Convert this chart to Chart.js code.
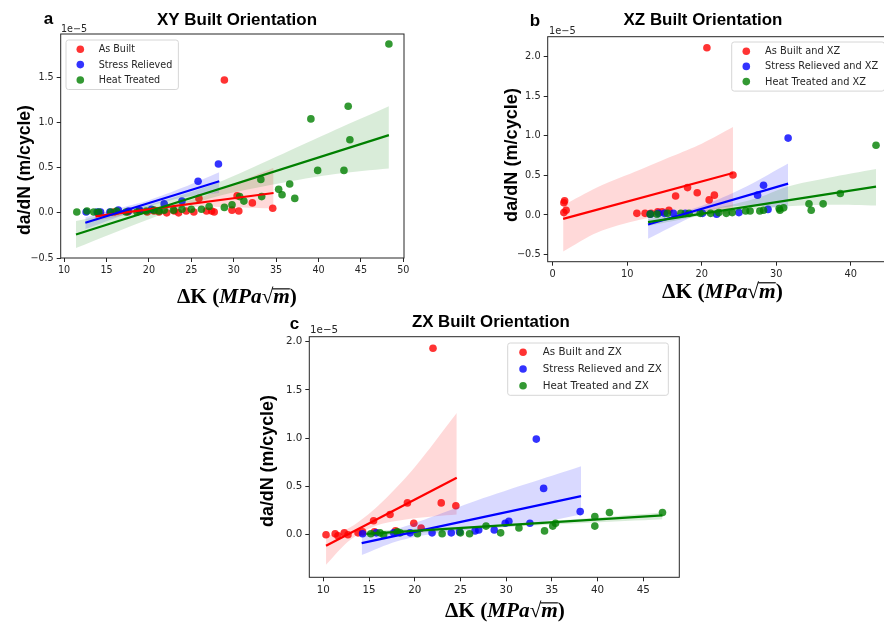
<!DOCTYPE html>
<html>
<head>
<meta charset="utf-8">
<script src="https://cdn.jsdelivr.net/npm/chart.js@4.4.1/dist/chart.umd.min.js"></script>
<style>
  html, body { margin: 0; padding: 0; background: #fff; overflow: hidden; width: 884px; height: 622px; }
  canvas { position: absolute; }
</style>
</head>
<body>
<canvas id="chartXY" width="425" height="310" style="left:0px;top:0px"></canvas>
<canvas id="chartXZ" width="420" height="310" style="left:490px;top:0px"></canvas>
<canvas id="chartZX" width="450" height="312" style="left:250px;top:310px"></canvas>
<script>
// all da/dN values are in units of 1e-5 m/cycle

// ---- XY built orientation ----
const xyLabels = ['As Built', 'Stress Relieved', 'Heat Treated'];
const xyTicksX = [10, 15, 20, 25, 30, 35, 40, 45, 50];
const xyTicksY = [-0.5, 0, 0.5, 1.0, 1.5];

const xyAsBuiltX = [14.0, 15.9, 17.5, 18.9, 19.8, 20.6, 21.2, 22.1, 23.0, 23.5, 24.4, 25.3, 25.9, 26.8, 27.4, 27.7, 28.9, 29.8, 30.4, 30.6, 32.2, 34.6];
const xyAsBuiltY = [0.00, 0.01, 0.01, 0.02, 0.01, 0.02, 0.01, 0.00, 0.02, 0.00, 0.02, 0.01, 0.16, 0.02, 0.02, 0.01, 1.47, 0.03, 0.19, 0.02, 0.11, 0.05];
const xyStressX = [12.6, 13.9, 14.3, 15.4, 16.4, 17.6, 18.9, 20.3, 21.8, 23.9, 25.8, 28.2];
const xyStressY = [0.01, 0.01, 0.01, 0.01, 0.03, 0.02, 0.03, 0.04, 0.10, 0.13, 0.35, 0.54];
const xyHeatX = [11.5, 12.7, 13.5, 14.1, 15.5, 16.2, 17.3, 18.6, 19.7, 20.6, 21.2, 21.8, 22.9, 23.9, 25.0, 26.2, 27.1, 28.9, 29.8, 30.7, 31.2, 33.2, 33.3, 35.3, 35.7, 36.6, 37.2, 39.1, 39.9, 43.0, 43.5, 43.7, 48.3];
const xyHeatY = [0.01, 0.02, 0.01, 0.01, 0.01, 0.02, 0.01, 0.01, 0.02, 0.03, 0.02, 0.03, 0.03, 0.04, 0.04, 0.04, 0.07, 0.06, 0.09, 0.18, 0.13, 0.37, 0.18, 0.26, 0.20, 0.32, 0.16, 1.04, 0.47, 0.47, 1.18, 0.81, 1.87];

const xyAsBuiltFitX = [13.7, 34.7], xyAsBuiltFitY = [-0.04, 0.22];
const xyAsBuiltBandX = [13.7, 18, 22, 26, 30, 34.7];
const xyAsBuiltUpper = [0.00, 0.04, 0.08, 0.17, 0.32, 0.50];
const xyAsBuiltLower = [-0.09, -0.01, 0.04, 0.07, 0.06, 0.05];
const xyStressFitX = [12.5, 28.3], xyStressFitY = [-0.11, 0.35];
const xyStressBandX = [12.5, 16, 20, 24, 28.3];
const xyStressUpper = [-0.05, 0.04, 0.14, 0.28, 0.45];
const xyStressLower = [-0.18, -0.06, 0.07, 0.17, 0.22];
const xyHeatFitX = [11.4, 48.3], xyHeatFitY = [-0.24, 0.86];
const xyHeatBandX = [11.4, 20, 28, 35, 42, 48.3];
const xyHeatUpper = [-0.09, 0.09, 0.33, 0.62, 0.92, 1.18];
const xyHeatLower = [-0.39, -0.07, 0.18, 0.32, 0.43, 0.49];

// ---- XZ built orientation ----
const xzLabels = ['As Built and XZ', 'Stress Relieved and XZ', 'Heat Treated and XZ'];
const xzTicksX = [0, 10, 20, 30, 40];
const xzTicksY = [-0.5, 0, 0.5, 1.0, 1.5, 2.0];

const xzAsBuiltX = [1.5, 1.6, 1.5, 1.8, 11.3, 12.4, 13.2, 14.1, 14.7, 15.6, 16.5, 18.1, 19.4, 20.7, 21.0, 21.7, 24.2];
const xzAsBuiltY = [0.155, 0.18, 0.03, 0.06, 0.02, 0.02, 0.02, 0.04, 0.04, 0.06, 0.24, 0.345, 0.28, 2.11, 0.19, 0.25, 0.505];
const xzStressX = [13.1, 14.2, 15.0, 16.2, 17.8, 20.1, 22.0, 25.0, 27.5, 28.3, 28.9, 31.6];
const xzStressY = [0.01, 0.02, 0.02, 0.02, 0.02, 0.02, 0.01, 0.03, 0.25, 0.375, 0.07, 0.97];
const xzHeatX = [13.1, 14.0, 15.4, 17.2, 18.3, 19.8, 21.2, 22.3, 23.3, 24.1, 25.9, 26.5, 27.8, 28.3, 30.4, 30.5, 31.0, 34.4, 34.7, 36.3, 38.6, 43.4];
const xzHeatY = [0.01, 0.01, 0.02, 0.02, 0.02, 0.02, 0.02, 0.03, 0.02, 0.03, 0.05, 0.05, 0.05, 0.06, 0.08, 0.06, 0.09, 0.14, 0.06, 0.14, 0.27, 0.88];

const xzAsBuiltFitX = [1.4, 24.2], xzAsBuiltFitY = [-0.05, 0.53];
const xzAsBuiltBandX = [1.4, 6, 11.7, 16, 20, 24.2];
const xzAsBuiltUpper = [0.12, 0.35, 0.57, 0.74, 0.90, 1.11];
const xzAsBuiltLower = [-0.46, -0.22, -0.06, 0.00, 0.03, 0.00];
const xzStressFitX = [12.8, 31.6], xzStressFitY = [-0.12, 0.395];
const xzStressBandX = [12.8, 17, 21, 26, 31.6];
const xzStressUpper = [-0.02, 0.03, 0.15, 0.36, 0.65];
const xzStressLower = [-0.30, -0.10, 0.06, 0.12, 0.08];
const xzHeatFitX = [12.8, 43.4], xzHeatFitY = [-0.09, 0.357];
const xzHeatBandX = [12.8, 20, 27, 31.6, 37, 43.4];
const xzHeatUpper = [-0.05, 0.05, 0.20, 0.36, 0.47, 0.58];
const xzHeatLower = [-0.14, -0.01, 0.07, 0.11, 0.13, 0.12];

// ---- ZX built orientation ----
const zxLabels = ['As Built and ZX', 'Stress Relieved and ZX', 'Heat Treated and ZX'];
const zxTicksX = [10, 15, 20, 25, 30, 35, 40, 45];
const zxTicksY = [0, 0.5, 1.0, 1.5, 2.0];

const zxAsBuiltX = [10.3, 11.3, 11.6, 12.3, 12.7, 13.8, 14.3, 15.5, 15.6, 17.3, 17.9, 19.2, 19.9, 20.7, 22.0, 22.9, 24.5];
const zxAsBuiltY = [0.00, 0.01, -0.01, 0.02, 0.00, 0.02, 0.03, 0.145, 0.03, 0.21, 0.04, 0.33, 0.12, 0.07, 1.93, 0.33, 0.30];
const zxStressX = [14.3, 15.8, 17.7, 19.5, 21.9, 24.0, 24.9, 26.6, 27.0, 28.7, 29.9, 30.3, 32.6, 33.3, 34.1, 38.1];
const zxStressY = [0.01, 0.02, 0.02, 0.02, 0.02, 0.02, 0.03, 0.04, 0.05, 0.05, 0.12, 0.14, 0.12, 0.99, 0.48, 0.24];
const zxHeatX = [15.2, 16.2, 16.6, 18.1, 18.4, 20.3, 23.0, 25.0, 26.0, 27.8, 29.4, 31.4, 34.2, 35.1, 35.4, 39.7, 39.7, 41.3, 47.1];
const zxHeatY = [0.01, 0.02, 0.00, 0.03, 0.02, 0.01, 0.01, 0.02, 0.01, 0.09, 0.02, 0.07, 0.04, 0.09, 0.12, 0.19, 0.09, 0.23, 0.23];

const zxAsBuiltFitX = [10.3, 24.6], zxAsBuiltFitY = [-0.114, 0.59];
const zxAsBuiltBandX = [10.3, 13, 16, 20, 24.6];
const zxAsBuiltUpper = [-0.02, 0.08, 0.30, 0.70, 1.26];
const zxAsBuiltLower = [-0.31, -0.05, 0.10, 0.17, 0.21];
const zxStressFitX = [14.2, 38.2], zxStressFitY = [-0.086, 0.40];
const zxStressBandX = [14.2, 18, 22, 26, 32, 38.2];
const zxStressUpper = [-0.02, 0.06, 0.19, 0.33, 0.52, 0.71];
const zxStressLower = [-0.21, -0.07, 0.01, 0.05, 0.10, 0.21];
const zxHeatFitX = [14.7, 47.1], zxHeatFitY = [0.01, 0.20];
const zxHeatBandX = [14.7, 30, 47.1];
const zxHeatUpper = [0.04, 0.11, 0.23];
const zxHeatLower = [-0.02, 0.08, 0.16];

const RED = [255, 0, 0], BLUE = [0, 0, 255], GREEN = [0, 128, 0];
const rgba = (c, a) => `rgba(${c[0]},${c[1]},${c[2]},${a})`;
const pts = (xs, ys) => xs.map((x, i) => ({ x: x, y: ys[i] }));
const fmtY = v => (v < 0 ? '\u2212' : '') + Math.abs(v).toFixed(1);
const DOT = 3.8;

function series(label, color, x, y, fitX, fitY, bandX, upper, lower) {
    return { label, color, x, y, fitX, fitY, bandX, upper, lower };
}

const panels = [
    {
        id: 'chartXY', left: 0, top: 0, w: 425, h: 310,
        area: { l: 60.7, t: 34, r: 404, b: 258 },
        xMin: 9.6, xMax: 50.08, yMin: -0.5, yMax: 1.98,
        xTicks: xyTicksX, yTicks: xyTicksY,
        letter: 'a', title: 'XY Built Orientation',
        titleAt: [237, 20], titleW: 160, letterAt: [48.5, 19.5], expAt: [61, 29],
        yTitleAt: [25, 170], yTitleW: 130, xTitleAt: [237, 298], xTitleW: 120,
        legendAt: [66, 40], legendRow: 15.4, font: 9.6,
        series: [
            series(xyLabels[0], RED, xyAsBuiltX, xyAsBuiltY, xyAsBuiltFitX, xyAsBuiltFitY, xyAsBuiltBandX, xyAsBuiltUpper, xyAsBuiltLower),
            series(xyLabels[1], BLUE, xyStressX, xyStressY, xyStressFitX, xyStressFitY, xyStressBandX, xyStressUpper, xyStressLower),
            series(xyLabels[2], GREEN, xyHeatX, xyHeatY, xyHeatFitX, xyHeatFitY, xyHeatBandX, xyHeatUpper, xyHeatLower)
        ]
    },
    {
        id: 'chartXZ', left: 490, top: 0, w: 420, h: 310,
        area: { l: 547.7, t: 36.7, r: 895.4, b: 261.7 },
        xMin: -0.67, xMax: 46.0, yMin: -0.59, yMax: 2.25,
        xTicks: xzTicksX, yTicks: xzTicksY,
        letter: 'b', title: 'XZ Built Orientation',
        titleAt: [703, 20.7], titleW: 159, letterAt: [535, 21], expAt: [549, 31.7],
        yTitleAt: [512, 155], yTitleW: 134, xTitleAt: [722.5, 292], xTitleW: 121,
        legendAt: [731.7, 42], legendRow: 15.2, font: 9.8,
        series: [
            series(xzLabels[0], RED, xzAsBuiltX, xzAsBuiltY, xzAsBuiltFitX, xzAsBuiltFitY, xzAsBuiltBandX, xzAsBuiltUpper, xzAsBuiltLower),
            series(xzLabels[1], BLUE, xzStressX, xzStressY, xzStressFitX, xzStressFitY, xzStressBandX, xzStressUpper, xzStressLower),
            series(xzLabels[2], GREEN, xzHeatX, xzHeatY, xzHeatFitX, xzHeatFitY, xzHeatBandX, xzHeatUpper, xzHeatLower)
        ]
    },
    {
        id: 'chartZX', left: 250, top: 310, w: 450, h: 312,
        area: { l: 309.3, t: 336.7, r: 679.3, b: 577.3 },
        xMin: 8.47, xMax: 48.94, yMin: -0.44, yMax: 2.05,
        xTicks: zxTicksX, yTicks: zxTicksY,
        letter: 'c', title: 'ZX Built Orientation',
        titleAt: [490.8, 322.3], titleW: 158, letterAt: [294.5, 324], expAt: [310, 330.7],
        yTitleAt: [268, 461], yTitleW: 132, xTitleAt: [505, 612], xTitleW: 120,
        legendAt: [507.7, 343], legendRow: 16.8, font: 10.3,
        series: [
            series(zxLabels[0], RED, zxAsBuiltX, zxAsBuiltY, zxAsBuiltFitX, zxAsBuiltFitY, zxAsBuiltBandX, zxAsBuiltUpper, zxAsBuiltLower),
            series(zxLabels[1], BLUE, zxStressX, zxStressY, zxStressFitX, zxStressFitY, zxStressBandX, zxStressUpper, zxStressLower),
            series(zxLabels[2], GREEN, zxHeatX, zxHeatY, zxHeatFitX, zxHeatFitY, zxHeatBandX, zxHeatUpper, zxHeatLower)
        ]
    }
];

const SANS = '"Liberation Sans", Arial, sans-serif';
const SERIF = '"Liberation Serif", "DejaVu Serif", serif';

function fitText(ctx, text, weight, family, targetW) {
    ctx.font = `${weight} 20px ${family}`;
    const size = 20 * targetW / ctx.measureText(text).width;
    ctx.font = `${weight} ${size}px ${family}`;
}

function drawDeltaK(ctx, cx, cy, targetW) {
    const parts = [['\u0394K', 'bold'], [' (', 'bold'], ['MPa', 'italic bold'], ['\u221A', 'bold'], ['m', 'italic bold'], [')', 'bold']];
    const widthAt = sz => parts.reduce((w, [t, st]) => { ctx.font = `${st} ${sz}px ${SERIF}`; return w + ctx.measureText(t).width; }, 0);
    const size = 20 * targetW / widthAt(20);
    let x = cx - targetW / 2;
    ctx.textAlign = 'left';
    ctx.textBaseline = 'middle';
    parts.forEach(([t, st]) => {
        ctx.font = `${st} ${size}px ${SERIF}`;
        const w = ctx.measureText(t).width;
        ctx.fillText(t, x, cy);
        if (t === 'm') {
            ctx.beginPath();
            ctx.lineWidth = size * 0.055;
            ctx.moveTo(x - 1, cy - size * 0.43);
            ctx.lineTo(x + w, cy - size * 0.43);
            ctx.stroke();
        }
        x += w;
    });
}

function decorPlugin(p) {
    return {
        id: 'decor',
        afterDraw(chart) {
            const ctx = chart.ctx, a = chart.chartArea;
            const ox = p.left, oy = p.top;
            ctx.save();
            ctx.strokeStyle = '#262626';
            ctx.lineWidth = 1;
            ctx.strokeRect(a.left, a.top, a.right - a.left, a.bottom - a.top);

            ctx.fillStyle = '#000';
            ctx.strokeStyle = '#000';
            ctx.textAlign = 'center';
            ctx.textBaseline = 'middle';
            fitText(ctx, p.title, 'bold', SANS, p.titleW);
            ctx.fillText(p.title, p.titleAt[0] - ox, p.titleAt[1] - oy);
            ctx.font = `bold 17px ${SANS}`;
            ctx.fillText(p.letter, p.letterAt[0] - ox, p.letterAt[1] - oy);

            ctx.save();
            ctx.translate(p.yTitleAt[0] - ox, p.yTitleAt[1] - oy);
            ctx.rotate(-Math.PI / 2);
            fitText(ctx, 'da/dN (m/cycle)', 'bold', SANS, p.yTitleW);
            ctx.fillText('da/dN (m/cycle)', 0, 0);
            ctx.restore();

            drawDeltaK(ctx, p.xTitleAt[0] - ox, p.xTitleAt[1] - oy, p.xTitleW);

            ctx.fillStyle = '#262626';
            ctx.textAlign = 'left';
            ctx.font = `${p.font}px "DejaVu Sans"`;
            ctx.fillText('1e\u22125', p.expAt[0] - ox, p.expAt[1] - oy);

            // legend
            const k = p.font / 9.4;
            const tw = Math.max(...p.series.map(s => ctx.measureText(s.label).width));
            const bx = p.legendAt[0] - ox, by = p.legendAt[1] - oy;
            const bw = 32 * k + tw + 6 * k, bh = 2 * p.legendRow + 18.7;
            ctx.beginPath();
            ctx.roundRect(bx, by, bw, bh, 2.5);
            ctx.fillStyle = 'rgba(255,255,255,0.8)';
            ctx.fill();
            ctx.strokeStyle = '#d6d6d6';
            ctx.lineWidth = 1;
            ctx.stroke();
            p.series.forEach((s, i) => {
                const cy = by + 9.2 + i * p.legendRow;
                ctx.beginPath();
                ctx.arc(bx + 14 * k, cy, DOT, 0, Math.PI * 2);
                ctx.fillStyle = rgba(s.color, 0.8);
                ctx.fill();
                ctx.fillStyle = '#262626';
                ctx.fillText(s.label, bx + 32 * k, cy + 0.5);
            });
            ctx.restore();
        }
    };
}

function buildPanel(p) {
    const datasets = [];
    p.series.forEach((s, i) => {
        datasets.push({
            type: 'scatter', label: s.label, data: pts(s.x, s.y),
            backgroundColor: rgba(s.color, 0.8), borderWidth: 0,
            pointRadius: DOT, pointHoverRadius: DOT, order: 30 - 2 * i
        });
        const lowerIndex = datasets.length;
        datasets.push({
            type: 'line', data: pts(s.bandX, s.lower), borderWidth: 0,
            pointRadius: 0, fill: false, tension: 0.3, order: 29 - 2 * i
        });
        datasets.push({
            type: 'line', data: pts(s.bandX, s.upper), borderWidth: 0,
            pointRadius: 0, fill: lowerIndex, tension: 0.3,
            backgroundColor: rgba(s.color, 0.15), order: 29 - 2 * i
        });
        datasets.push({
            type: 'line', data: pts(s.fitX, s.fitY), borderColor: rgba(s.color, 1),
            borderWidth: 2.2, pointRadius: 0, fill: false, order: 5 - i
        });
    });

    const aL = p.area.l - p.left, aT = p.area.t - p.top;
    const aR = p.area.r - p.left, aB = p.area.b - p.top;
    const tickFont = { family: 'DejaVu Sans', size: p.font };

    new Chart(document.getElementById(p.id), {
        type: 'scatter',
        data: { datasets },
        options: {
            responsive: false,
            animation: false,
            events: [],
            layout: { padding: { left: 0, top: aT, right: p.w - aR, bottom: p.h - aB - 24 } },
            plugins: { legend: { display: false }, tooltip: { enabled: false } },
            scales: {
                x: {
                    type: 'linear', min: p.xMin, max: p.xMax,
                    afterBuildTicks: s => { s.ticks = p.xTicks.map(v => ({ value: v })); },
                    afterFit: s => { s.height = 24; },
                    ticks: { autoSkip: false, maxRotation: 0, padding: 3, color: '#262626', font: tickFont, callback: v => String(v) },
                    grid: { drawOnChartArea: false, drawTicks: true, tickLength: 4, tickColor: '#262626' },
                    border: { display: false }
                },
                y: {
                    type: 'linear', min: p.yMin, max: p.yMax,
                    afterBuildTicks: s => { s.ticks = p.yTicks.map(v => ({ value: v })); },
                    afterFit: s => { s.width = aL; },
                    ticks: { autoSkip: false, padding: 3, color: '#262626', font: tickFont, callback: v => fmtY(v) },
                    grid: { drawOnChartArea: false, drawTicks: true, tickLength: 4, tickColor: '#262626' },
                    border: { display: false }
                }
            }
        },
        plugins: [decorPlugin(p)]
    });
}

panels.forEach(buildPanel);
</script>
</body>
</html>
